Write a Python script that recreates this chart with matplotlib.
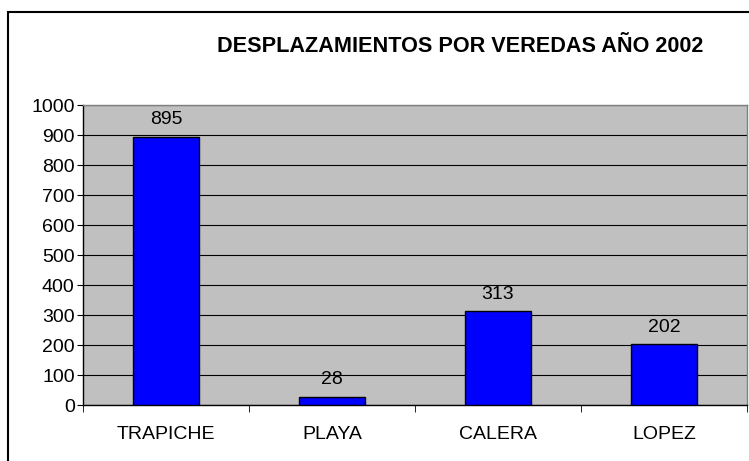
import matplotlib
matplotlib.use("Agg")
import matplotlib.pyplot as plt
from matplotlib.patches import Rectangle

plt.rcParams["font.family"] = ["Liberation Sans", "DejaVu Sans"]

veredas = ["TRAPICHE", "PLAYA", "CALERA", "LOPEZ"]
desplazados = [895, 28, 313, 202]
y_ticks = list(range(0, 1001, 100))
titulo = "DESPLAZAMIENTOS POR VEREDAS AÑO 2002"

fig = plt.figure(figsize=(7.49, 4.61), dpi=100)
ax = fig.add_axes([83 / 749, 56 / 461, 664 / 749, 300 / 461])
ax.set_facecolor("#C0C0C0")

x = range(len(veredas))
bars = ax.bar(x, desplazados, width=0.4, color="#0000FF",
              edgecolor="black", linewidth=1.0, zorder=3)
for b, v in zip(bars, desplazados):
    ax.annotate(str(v), (b.get_x() + b.get_width() / 2, v),
                xytext=(0, 6), textcoords="offset points",
                ha="center", va="bottom", fontsize=14)

ax.set_xlim(-0.5, len(veredas) - 0.5)
ax.set_ylim(0, 1000)
ax.set_yticks(y_ticks)
ax.tick_params(axis="y", labelsize=14, length=4, direction="out", pad=2)
ax.set_xticks(list(x))
ax.set_xticklabels(veredas, fontsize=14)
ax.set_xticks([i + 0.5 for i in range(-1, len(veredas))], minor=True)
ax.tick_params(axis="x", which="major", length=0, pad=15)
ax.tick_params(axis="x", which="minor", length=5, direction="out")
ax.grid(axis="y", color="black", linewidth=0.8, zorder=0)
ax.set_axisbelow(True)

for side in ("left", "bottom"):
    ax.spines[side].set_color("black")
    ax.spines[side].set_linewidth(1.0)
for side in ("top", "right"):
    ax.spines[side].set_color("#808080")
    ax.spines[side].set_linewidth(1.0)

fig.text(460 / 749, 1 - 46 / 461, titulo, ha="center", va="center",
         fontsize=15.6, fontweight="bold")

# marco exterior
fig.patches.append(Rectangle((8 / 749, -0.05), 1.0, 1 - 12 / 461 + 0.05,
                             transform=fig.transFigure, fill=False,
                             edgecolor="black", linewidth=1.5))

fig.savefig("out.png", dpi=100)
